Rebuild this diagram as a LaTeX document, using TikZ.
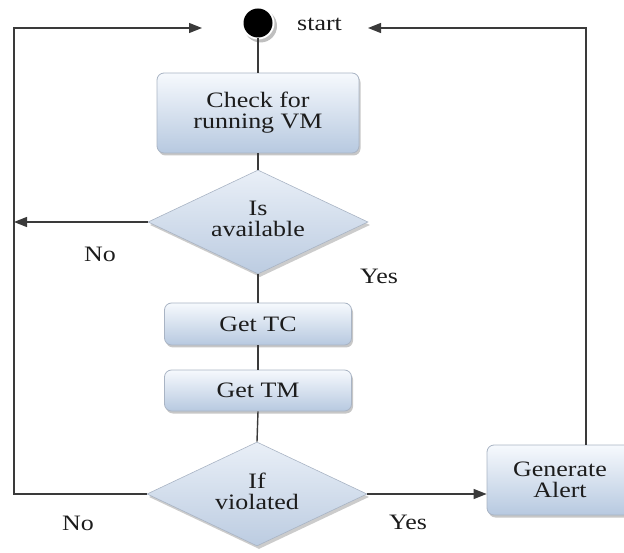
\documentclass[tikz,border=0pt]{standalone}
\usepackage{fontspec}
\setmainfont{Liberation Serif}[FakeStretch=1.18]
\usetikzlibrary{shapes.geometric,arrows.meta,shadows}

\definecolor{linec}{HTML}{3A3A3A}
\definecolor{boxtop}{HTML}{F6F9FD}
\definecolor{boxbot}{HTML}{B7C9E0}
\definecolor{boxedge}{HTML}{A9B4C4}
\definecolor{diatop}{HTML}{E9EFF7}
\definecolor{diabot}{HTML}{BCCCE1}
\definecolor{txt}{HTML}{1C1C1C}

% two-line label set a little below the diamond's centre
\newcommand{\diatext}[1]{\raisebox{-5pt}{\begin{tabular}{@{}c@{}}#1\end{tabular}}}

\tikzset{
  txtfont/.style={font=\fontsize{22pt}{21pt}\selectfont, text=txt},
  boxst/.style={rectangle, rounded corners=7pt, draw=boxedge, line width=0.8pt,
    top color=boxtop, bottom color=boxbot, align=center, inner sep=0pt, txtfont,
    drop shadow={shadow xshift=1.5pt, shadow yshift=-2.5pt, fill=black!40, opacity=0.55}},
  diast/.style={diamond, aspect=2.1, draw=boxedge, line width=0.6pt, top color=diatop, bottom color=diabot,
    minimum width=220pt, minimum height=104pt, inner sep=0pt, txtfont,
    font=\fontsize{22pt}{20pt}\selectfont,
    drop shadow={shadow xshift=2pt, shadow yshift=-3pt, fill=black!40, opacity=0.5}},
  lbl/.style={inner sep=0pt, txtfont},
  flow/.style={draw=linec, line width=1.4pt},
  arr/.style={flow, -{Triangle[length=13pt, width=10pt]}},
}

\begin{document}
\begin{tikzpicture}[x=1pt, y=-1pt]
\useasboundingbox (0,0) rectangle (624,553);

% initial state
\fill[black!25] (260.5,26) circle (16.5pt);
\fill[white] (258,23) circle (16.5pt);
\node[circle, fill=black, minimum size=29pt, inner sep=0pt] (init) at (258,23) {};
\node[lbl, anchor=west] (startlbl) at (297,24) {start};

% process steps
\node[boxst, minimum width=202pt, minimum height=80pt] (check) at (258,113) {Check for\\running VM};
\node[diast] (avail) at (258,222) {\diatext{Is\\available}};
\node[boxst, minimum width=187pt, minimum height=42pt] (gettc) at (258,324) {Get TC};
\node[boxst, minimum width=187pt, minimum height=41pt] (gettm) at (258,390.5) {Get TM};
\node[diast] (viol) at (257,494) {\diatext{If\\violated}};
\node[boxst, minimum width=146pt, minimum height=70pt] (alert) at (560,480) {Generate\\Alert};

% branch labels
\node[lbl] (no1) at (100,254) {No};
\node[lbl] (yes1) at (379,276) {Yes};
\node[lbl] (no2) at (78,523) {No};
\node[lbl] (yes2) at (408,522) {Yes};

% return rails
\coordinate (railL) at (14,28);
\coordinate (railR) at (586,28);
\coordinate (intoL) at (202,28);
\coordinate (intoR) at (368,28);

% main flow
\draw[flow] (init.south) -- (check.north);
\draw[flow] (check.south) -- (avail.north);
\draw[flow] (avail.south) -- (gettc.north);
\draw[flow] (gettc.south) -- (gettm.north);
\draw[flow] (gettm.south) -- (viol.north);

% branches
\draw[arr] (avail.west) -- (avail.west -| railL);
\draw[arr] (viol.west) -| (railL) -- (intoL);
\draw[arr] (viol.east) -- (alert.west |- viol.east);
\draw[arr] (railR |- alert.north) -- (railR) -- (intoR);
\end{tikzpicture}
\end{document}
